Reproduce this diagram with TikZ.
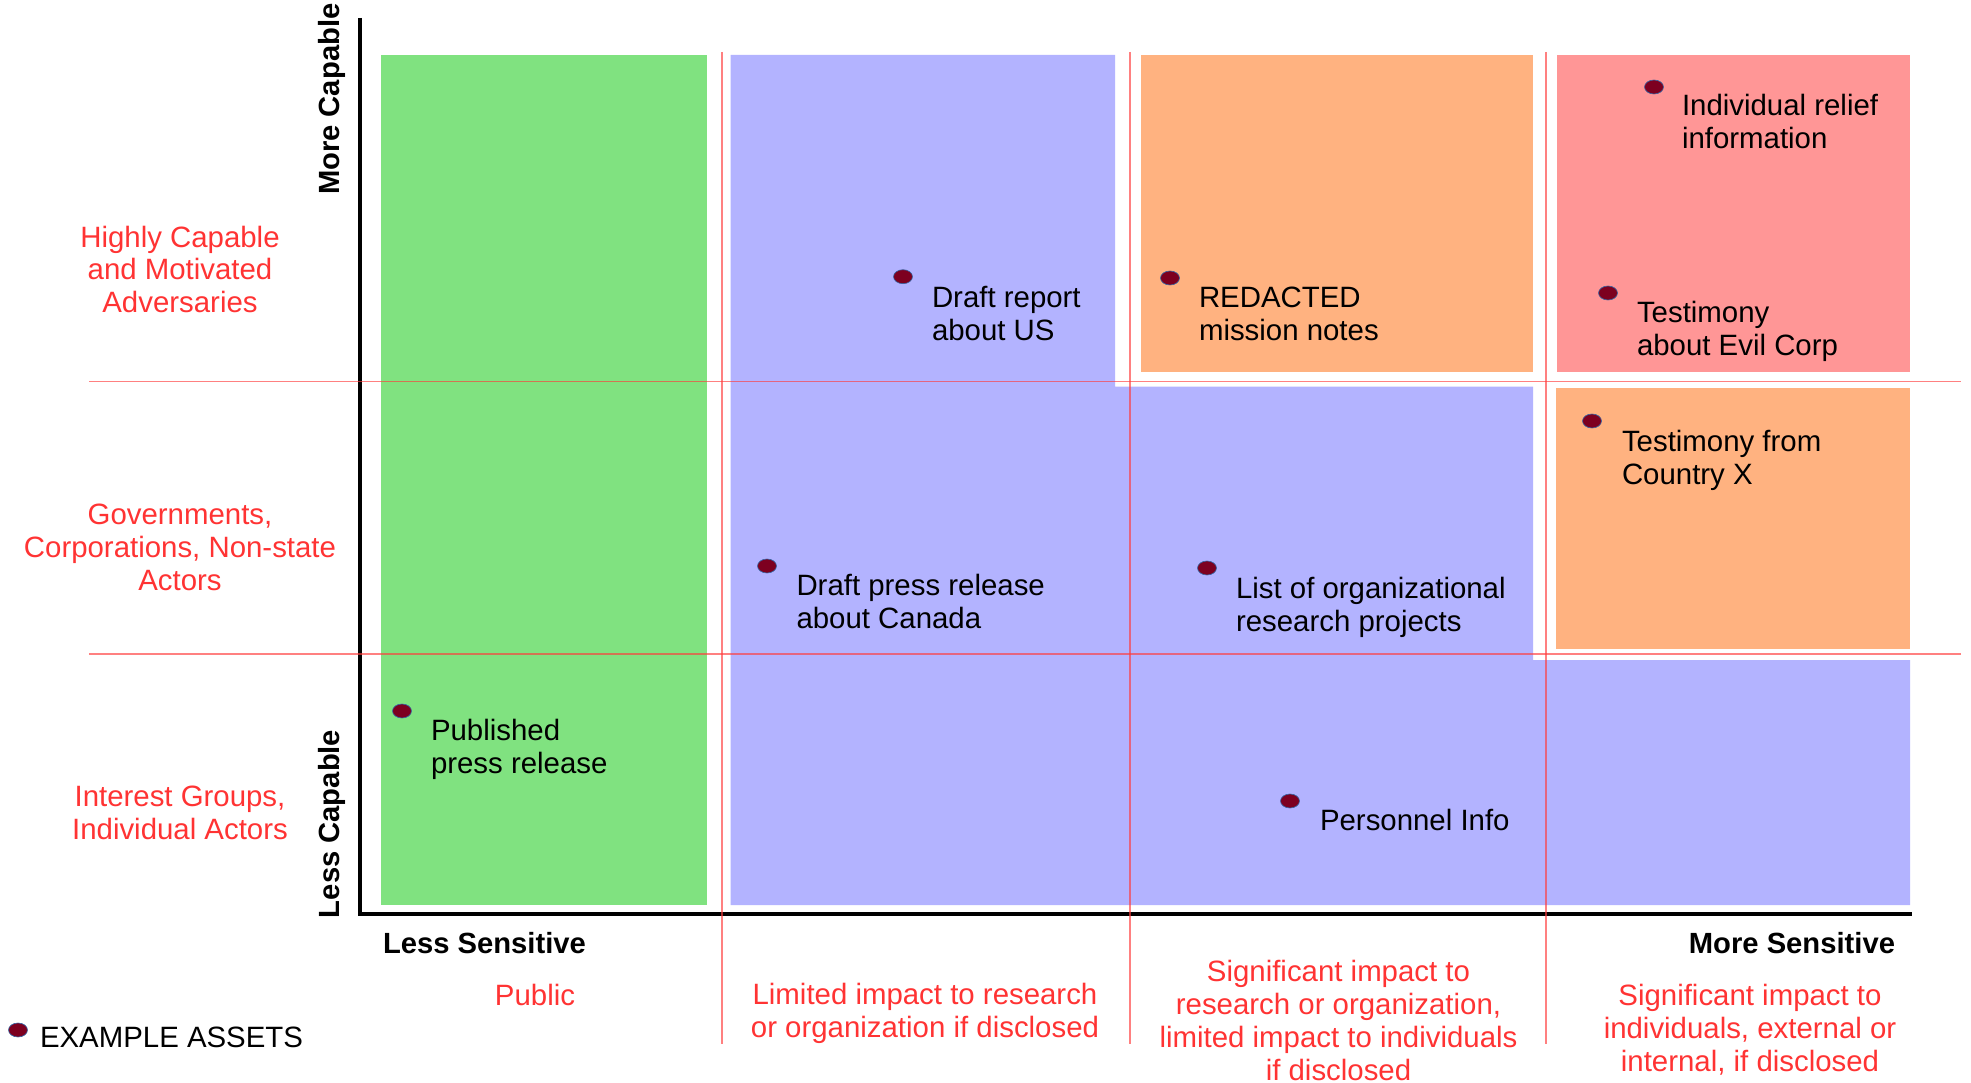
\documentclass[tikz,border=0pt]{standalone}
\usepackage{fontspec}
\setmainfont{Liberation Sans}
\usetikzlibrary{shapes.geometric,calc}
\definecolor{cgreen}{RGB}{128,226,128}
\definecolor{cblue}{RGB}{179,179,255}
\definecolor{corange}{RGB}{255,178,128}
\definecolor{cpink}{RGB}{255,150,150}
\definecolor{cline}{RGB}{255,60,60}
\definecolor{ctext}{RGB}{255,51,51}
\definecolor{cdot}{RGB}{125,0,32}
\definecolor{cdotedge}{RGB}{52,101,164}
\newcommand{\topstrut}{\rule{0pt}{22.5pt}}
\begin{document}
\begin{tikzpicture}[x=1pt,y=-1pt,
  every node/.style={inner sep=0pt, outer sep=0pt},
  txt/.style={font=\fontsize{29.4}{33}\selectfont},
  asset/.style={txt, anchor=north west, align=left, text=black},
  redlbl/.style={txt, anchor=north, align=center, text=ctext},
  axislbl/.style={font=\fontsize{29.2}{33}\selectfont\bfseries, text=black},
  dot/.style={ellipse, fill=cdot, draw=cdotedge, line width=0.6pt, minimum width=19pt, minimum height=14pt},
  redgrid/.style={draw=cline, draw opacity=0.65, line width=1.6pt},
  axisline/.style={draw=black, line width=3.5pt, line join=miter}]
\useasboundingbox (0,0) rectangle (1971,1083);
% coloured regions
\fill[cgreen] (381,55) rectangle (707,905);
\fill[cblue] (730.5,55) -- (1115,55) -- (1115,386.7) -- (1533,386.7) -- (1533,660)
  -- (1910,660) -- (1910,905) -- (730.5,905) -- cycle;
\fill[corange] (1141,55) rectangle (1533,371.7);
\fill[cpink] (1557,55) rectangle (1910,371.7);
\fill[corange] (1556,388.3) rectangle (1910,649.3);
% axes
\draw[axisline] (360,18) -- (360,914) -- (1912,914);
% red guide lines
\coordinate (h1a) at (89,381.5);  \coordinate (h1b) at (1961,381.5);
\coordinate (h2a) at (89,654);    \coordinate (h2b) at (1961,654);
\coordinate (v1a) at (722,52);    \coordinate (v1b) at (722,1044);
\coordinate (v2a) at (1130,52);   \coordinate (v2b) at (1130,1044);
\coordinate (v3a) at (1546,52);   \coordinate (v3b) at (1546,1044);
\draw[redgrid] (h1a) -- (h1b);
\draw[redgrid] (h2a) -- (h2b);
\draw[redgrid] (v1a) -- (v1b);
\draw[redgrid] (v2a) -- (v2b);
\draw[redgrid] (v3a) -- (v3b);
% axis labels
\node[axislbl, rotate=90, anchor=base west] (morecap) at (339,195) {More Capable};
\node[axislbl, rotate=90, anchor=base west] (lesscap) at (339,918) {Less Capable};
\node[axislbl, anchor=base west] (lesssens) at (383,953.5) {Less Sensitive};
\node[axislbl, anchor=base east] (moresens) at (1895,953.5) {More Sensitive};
% row labels
\node[redlbl] (row1) at (180,224.5) {\topstrut Highly Capable\\and Motivated\\Adversaries};
\node[redlbl] (row2) at (180,501.7) {\topstrut Governments,\\Corporations, Non-state\\Actors};
\node[redlbl] (row3) at (180,784) {\topstrut Interest Groups,\\Individual Actors};
% column labels
\node[redlbl] (col1) at (535,983) {\topstrut Public};
\node[redlbl] (col2) at (925,982.3) {\topstrut Limited impact to research\\or organization if disclosed};
\node[redlbl] (col3) at (1338.5,959) {\topstrut Significant impact to\\research or organization,\\limited impact to individuals\\if disclosed};
\node[redlbl] (col4) at (1750,983) {\topstrut Significant impact to\\individuals, external or\\internal, if disclosed};
% assets
\node[dot] (d1) at (1654,87) {};
\node[asset] (t1) at ($(d1)+(28,6.5)$) {\topstrut Individual relief\\information};
\node[dot] (d2) at (1170,278) {};
\node[asset] (t2) at ($(d2)+(29,7.5)$) {\topstrut REDACTED\\mission notes};
\node[dot] (d3) at (1608,293) {};
\node[asset] (t3) at ($(d3)+(29,7)$) {\topstrut Testimony\\about Evil Corp};
\node[dot] (d4) at (1592,421) {};
\node[asset] (t4) at ($(d4)+(30,8)$) {\topstrut Testimony from\\Country X};
\node[dot] (d5) at (1207,568) {};
\node[asset] (t5) at ($(d5)+(29,8)$) {\topstrut List of organizational\\research projects};
\node[dot] (d6) at (402,711) {};
\node[asset] (t6) at ($(d6)+(29,7)$) {\topstrut Published\\press release};
\node[dot] (d7) at (903,276.7) {};
\node[asset] (t7) at ($(d7)+(29,8)$) {\topstrut Draft report\\about US};
\node[dot] (d8) at (767,566) {};
\node[asset] (t8) at ($(d8)+(29.5,7.3)$) {\topstrut Draft press release\\about Canada};
\node[dot] (d9) at (1290,801) {};
\node[asset] (t9) at ($(d9)+(30,7.3)$) {\topstrut Personnel Info};
% legend
\node[dot] (dl) at (18,1030) {};
\node[txt, anchor=base west] (tl) at (40,1047.5) {EXAMPLE ASSETS};
\end{tikzpicture}
\end{document}
